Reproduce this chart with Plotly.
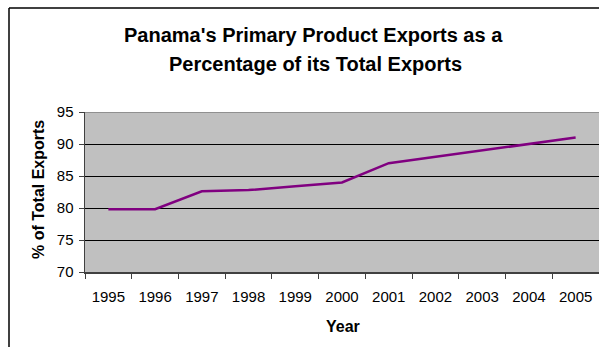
import plotly.graph_objects as go

years = ["1995", "1996", "1997", "1998", "1999", "2000", "2001", "2002", "2003", "2004", "2005"]
values = [79.8, 79.8, 82.6, 82.8, 83.4, 84.0, 87.0, 88.0, 89.0, 90.0, 91.0]
y_ticks = [70, 75, 80, 85, 90, 95]

title_lines = ["Panama's Primary Product Exports as a", "Percentage of its Total Exports"]
x_title = "Year"
y_title = "% of Total Exports"

FONT = "Liberation Sans, Arial, sans-serif"
W, H = 599, 347
L, R, T, B = 85, 0, 112, 75

fig = go.Figure()
fig.add_trace(go.Scatter(
    x=years, y=values, mode="lines",
    line=dict(color="#800080", width=2.5),
    showlegend=False, hoverinfo="skip",
))

pw = W - L - R
ph = H - T - B

def px_to_paper_x(px):
    return (px - L) / pw

def py_to_paper_y(py):
    return (H - B - py) / ph

fig.update_layout(
    width=W, height=H,
    margin=dict(l=L, r=R, t=T, b=B, pad=0),
    paper_bgcolor="white",
    plot_bgcolor="#C0C0C0",
    font=dict(family=FONT, size=15, color="black"),
    xaxis=dict(
        type="category", tickson="boundaries",
        showgrid=False, showline=True, linecolor="#404040", linewidth=1.5,
        ticks="outside", ticklen=5, tickcolor="#404040", tickwidth=1,
        ticklabelstandoff=10,
        tickfont=dict(size=15, family=FONT, color="black"),
        range=[-0.5, len(years) - 0.5], fixedrange=True,
    ),
    yaxis=dict(
        range=[70, 95], tickvals=y_ticks,
        showgrid=True, gridcolor="black", gridwidth=1,
        showline=True, linecolor="#404040", linewidth=1.5,
        ticks="outside", ticklen=5, tickcolor="#404040", tickwidth=1,
        ticklabelstandoff=2,
        zeroline=False,
        tickfont=dict(size=15, family=FONT, color="black"),
        fixedrange=True,
    ),
    shapes=[
        dict(type="line", xref="paper", yref="y", x0=0, x1=1, y0=95, y1=95,
             line=dict(color="#808080", width=1.5), layer="above"),
        dict(type="line", xref="paper", yref="paper",
             x0=px_to_paper_x(9), x1=px_to_paper_x(9),
             y0=py_to_paper_y(H), y1=py_to_paper_y(8),
             line=dict(color="black", width=1.5)),
        dict(type="line", xref="paper", yref="paper",
             x0=px_to_paper_x(9), x1=px_to_paper_x(599),
             y0=py_to_paper_y(8), y1=py_to_paper_y(8),
             line=dict(color="black", width=1.5)),
    ],
    annotations=[
        dict(text="<b>%s</b>" % title_lines[0], xref="paper", yref="paper",
             x=px_to_paper_x(313), y=py_to_paper_y(35), showarrow=False,
             xanchor="center", yanchor="middle", font=dict(size=20, family=FONT)),
        dict(text="<b>%s</b>" % title_lines[1], xref="paper", yref="paper",
             x=px_to_paper_x(315), y=py_to_paper_y(64), showarrow=False,
             xanchor="center", yanchor="middle", font=dict(size=20, family=FONT)),
        dict(text="<b>%s</b>" % x_title, xref="paper", yref="paper",
             x=px_to_paper_x(343), y=py_to_paper_y(326), showarrow=False,
             xanchor="center", yanchor="middle", font=dict(size=16, family=FONT)),
        dict(text="<b>%s</b>" % y_title, xref="paper", yref="paper",
             x=px_to_paper_x(38), y=py_to_paper_y(190), showarrow=False,
             xanchor="center", yanchor="middle", textangle=-90,
             font=dict(size=16, family=FONT)),
    ],
)

fig.write_html(
    "out.html",
    config={"displayModeBar": False, "staticPlot": True},
    post_script="document.documentElement.style.overflow='hidden';document.body.style.overflow='hidden';document.body.style.margin='0';",
)
